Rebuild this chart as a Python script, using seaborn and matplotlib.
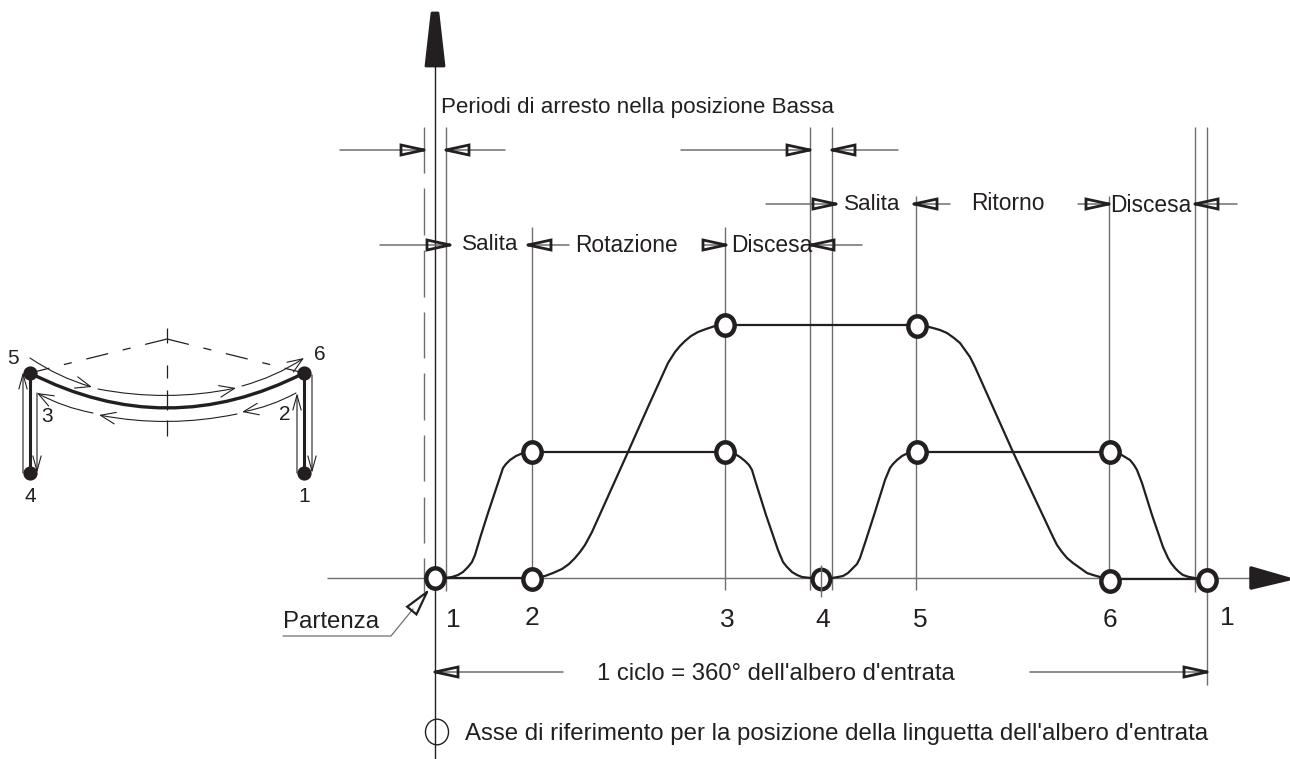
import numpy as np
import matplotlib
matplotlib.use('Agg')
import matplotlib.pyplot as plt
from matplotlib.path import Path
from matplotlib.transforms import Affine2D
import seaborn as sns

sns.set_theme(style='white')
plt.rcParams['font.family'] = ['Liberation Sans', 'DejaVu Sans']

ink = '#231f20'
grey = '#6f6f6f'

# motion curves in pixels
low_x = [435, 445, 452, 458, 463, 468, 472, 475, 481, 488, 494, 500, 503, 506, 510, 516, 523, 532,
         725, 735, 740, 745, 749, 752, 755, 766, 778, 783, 787, 792, 797, 802, 811, 821,
         832, 838, 843, 848, 853, 857, 860, 865, 875, 885, 890, 893, 897, 902, 908, 917,
         1110, 1120, 1125, 1130, 1134, 1137, 1142, 1152, 1163, 1168, 1171, 1175, 1179, 1183, 1189, 1195, 1207]
low_y = [578, 578, 577, 575, 572, 567, 562, 555, 535, 513, 495, 477, 468, 464, 460, 456, 453, 452,
         452, 454, 457, 461, 465, 470, 480, 515, 550, 562, 567, 572, 575, 577, 578, 579,
         578, 577, 576, 573, 568, 564, 558, 543, 512, 480, 468, 464, 460, 456, 453, 452,
         452, 454, 457, 460, 465, 470, 483, 515, 547, 558, 563, 568, 572, 575, 577, 578, 579]
high_x = [435, 532, 538, 545, 553, 562, 569, 575, 580, 585, 592, 610, 628, 648, 668, 675, 680, 685, 691, 698, 706, 715, 725,
          917, 925, 933, 940, 947, 954, 960, 965, 970, 975, 1013, 1053, 1057, 1062, 1067, 1073, 1080, 1087, 1093, 1100, 1110, 1207]
high_y = [578, 578, 577, 576, 573, 569, 564, 558, 552, 545, 532, 492, 452, 407, 363, 352, 346, 341, 336, 332, 329, 326, 325,
          325, 326, 328, 330, 333, 338, 343, 350, 357, 367, 452, 537, 545, 552, 558, 563, 568, 573, 575, 577, 579, 579]

node_x = [435, 532, 532, 725, 725, 917, 917, 1110, 1110, 1207]
node_y = [578, 579, 452, 452, 325, 326, 452, 452, 581, 580]

# construction lines: x, top, bottom
guide_x = [446, 532, 725, 810, 832, 916, 1109, 1195, 1207]
guide_top = [127, 227, 227, 127, 127, 196, 196, 127, 127]
guide_bottom = [591, 590, 590, 590, 590, 590, 590, 592, 685]
dash_top = [127, 188, 250, 312, 373, 435, 497, 558]
dash_bottom = [173, 235, 297, 358, 420, 481, 543, 592]

# dimension arrows: tail x, tip x, y
dim_tail = [340, 505, 681, 898, 766, 950, 1078, 1237, 380, 569, 703, 862, 563, 1030]
dim_tip = [424, 446, 810, 832, 836, 914, 1109, 1195, 450, 528, 726, 811, 435, 1207]
dim_y = [150, 150, 150, 150, 204, 204, 204, 204, 245, 245, 245, 245, 672, 672]

labels = ['Periodi di arresto nella posizione Bassa', 'Salita', 'Ritorno', 'Discesa', 'Salita', 'Rotazione', 'Discesa',
          "1 ciclo = 360° dell'albero d'entrata", "Asse di riferimento per la posizione della linguetta dell'albero d'entrata", 'Partenza']
label_x = [441, 844, 971, 1110, 462, 575, 731, 597, 465, 283]
label_y = [107, 204, 204, 205, 245, 245, 245, 674, 734, 622]
label_size = [16.1, 16.2, 16.4, 16.4, 16.2, 16.4, 16.4, 17.2, 17.25, 17.3]

step_labels = ['1', '2', '3', '4', '5', '6', '1']
step_x = [453, 532, 727, 823, 920, 1110, 1227]
step_y = [620, 618, 620, 620, 620, 620, 618]

# small sketch on the left
arm_x = [30, 304]
arm_top = [373, 373]
arm_bottom = [473, 473]
sketch_labels = ['5', '6', '3', '2', '4', '1']
sketch_x = [13, 320, 47, 285, 30, 304]
sketch_y = [358, 354, 417, 415, 497, 497]
center_top = [328, 365, 390, 420]
center_bottom = [343, 378, 410, 436]
# curved sketch arrows: tail x, tail y, tip x, tip y, bend
curve_tail_x = [30, 98, 242, 296, 237, 93]
curve_tail_y = [358, 389, 386, 393, 414, 413]
curve_tip_x = [92, 236, 304, 242, 99, 37]
curve_tip_y = [387, 388, 358, 412, 415, 393]
curve_bend = [0.08, 0.1, 0.08, -0.08, -0.1, -0.08]
# straight sketch arrows
straight_x = [23, 37, 297, 312]
straight_tail = [473, 393, 473, 375]
straight_tip = [372, 473, 393, 473]

fig, ax = plt.subplots(figsize=(12.9, 7.59), dpi=100)
ax.set_position([0, 0, 1, 1])
ax.set_xlim(0, 1290)
ax.set_ylim(759, 0)
ax.axis('off')


def open_head(x0, y0, x1, y1, length=23, half=5, lw=2.0):
    # slim triangle with white middle, tip at x1, y1
    d = np.array([x1 - x0, y1 - y0], dtype=float)
    d = d / np.hypot(*d)
    n = np.array([-d[1], d[0]])
    tip = np.array([x1, y1], dtype=float)
    base = tip - d * length
    tri = np.array([tip, base + n * half, base - n * half, tip])
    ax.plot(tri[:, 0], tri[:, 1], color=ink, lw=lw, solid_joinstyle='miter', zorder=4)


# thin construction lines
ax.vlines(guide_x, guide_top, guide_bottom, color=grey, lw=1.0, zorder=1)
ax.vlines([424] * len(dash_top), dash_top, dash_bottom, color=grey, lw=1.0, zorder=1)
ax.hlines([578], [327], [1252], color=grey, lw=1.0, zorder=1)
ax.vlines([435], [65], [760], color=ink, lw=1.0, zorder=2)

# axis arrow heads
ax.fill([426, 444, 438, 432], [66, 66, 13, 13], color=ink, zorder=5, lw=2, joinstyle='round')
ax.fill([1251, 1289, 1251], [568, 579, 588], color=ink, zorder=5, lw=2.5, joinstyle='round')

# curves
sns.lineplot(x=low_x, y=low_y, sort=False, estimator=None, color=ink, lw=1.6, ax=ax, zorder=3)
sns.lineplot(x=high_x, y=high_y, sort=False, estimator=None, color=ink, lw=1.6, ax=ax, zorder=3)
ax.set_xlim(0, 1290)
ax.set_ylim(759, 0)

# stop circles, slightly taller than wide
ring = Path.unit_circle().transformed(Affine2D().scale(0.9, 1.0))
sns.scatterplot(x=node_x, y=node_y, marker=ring, s=215, color='white', edgecolor=ink, linewidth=3.2, ax=ax, zorder=6)
sns.scatterplot(x=[821], y=[579], marker=ring, s=200, color='white', edgecolor=ink, linewidth=3.0, ax=ax, zorder=6)
ax.vlines([821], [565], [597], color=grey, lw=1.0, zorder=7)

# dimension arrows
for tail, tip, y in zip(dim_tail, dim_tip, dim_y):
    ax.plot([tail, tip], [y, y], color=grey, lw=1.1, zorder=2)
    open_head(tail, y, tip, y)

# Partenza leader
ax.plot([283, 391, 413], [636, 636, 609], color=grey, lw=0.9, zorder=2)
open_head(391, 636, 427, 592, length=24, half=6, lw=1.6)

# reference circle
ax.scatter([437], [732], marker=ring, s=340, facecolor='none', edgecolor=ink, linewidth=1.0, zorder=6)

for txt, x, y, size in zip(labels, label_x, label_y, label_size):
    ax.text(x, y, txt, fontsize=size, color=ink, ha='left', va='center', zorder=8)
for txt, x, y in zip(step_labels, step_x, step_y):
    ax.text(x, y, txt, fontsize=19, color=ink, ha='center', va='center', zorder=8)

# sketch
ax.vlines(arm_x, arm_top, arm_bottom, color=ink, lw=2.2, zorder=3)
ax.annotate('', xy=(304, 373), xytext=(30, 373), zorder=3,
            arrowprops=dict(arrowstyle='-', color=ink, lw=2.4, shrinkA=0, shrinkB=0, connectionstyle='arc3,rad=0.255'))
ax.scatter(arm_x * 2, arm_top + arm_bottom, s=105, color=ink, zorder=4, linewidth=0)
ax.vlines([167] * len(center_top), center_top, center_bottom, color=ink, lw=0.9, zorder=2)
ax.plot([167, 34], [339, 372], color=ink, lw=0.9, dashes=(18, 12, 6.5, 12), zorder=2)
ax.plot([167, 300], [339, 372], color=ink, lw=0.9, dashes=(18, 12, 6.5, 12), zorder=2)
for tx, ty, hx, hy, rad in zip(curve_tail_x, curve_tail_y, curve_tip_x, curve_tip_y, curve_bend):
    ax.annotate('', xy=(hx, hy), xytext=(tx, ty),
                arrowprops=dict(arrowstyle='->,head_length=0.9,head_width=0.35', color=ink, lw=0.8,
                                shrinkA=0, shrinkB=0, connectionstyle=f'arc3,rad={rad}'))
for x, tail, tip in zip(straight_x, straight_tail, straight_tip):
    ax.annotate('', xy=(x, tip), xytext=(x, tail),
                arrowprops=dict(arrowstyle='->,head_length=0.9,head_width=0.25', color=ink, lw=0.8, shrinkA=0, shrinkB=0))
for txt, x, y in zip(sketch_labels, sketch_x, sketch_y):
    ax.text(x, y, txt, fontsize=15, color=ink, ha='center', va='center', zorder=8)

fig.savefig('out.png', dpi=100, facecolor='white')
